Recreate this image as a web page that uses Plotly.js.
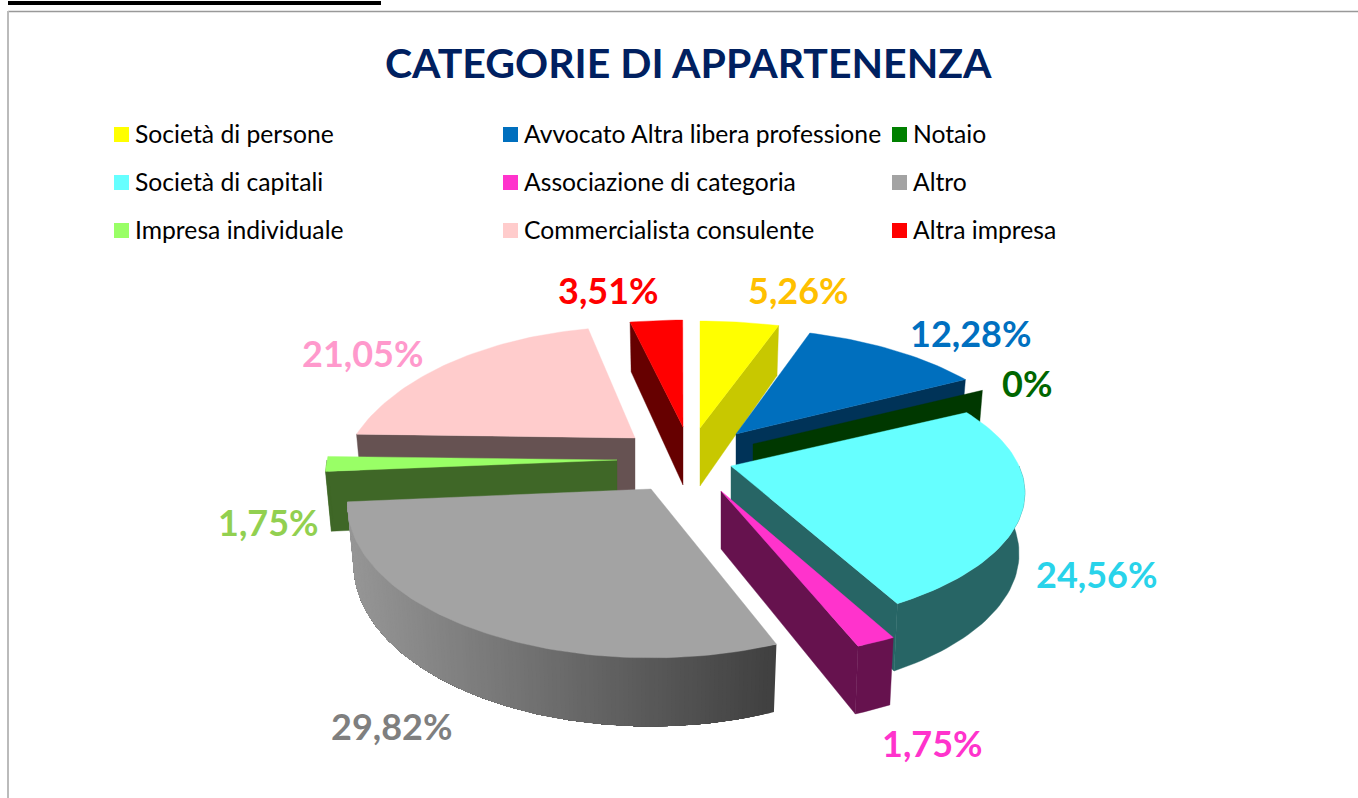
<!DOCTYPE html>
<html>
<head>
<meta charset="utf-8">
<script src="https://cdn.plot.ly/plotly-3.0.1.min.js"></script>
<style>html,body{margin:0;padding:0;background:#fff;overflow:hidden}#chart{width:1358px;height:798px}</style>
</head>
<body>
<div id="chart"></div>
<script>
// ---- data, clockwise from twelve o'clock
const categories = ["Società di persone","Avvocato Altra libera professione","Notaio","Società di capitali","Associazione di categoria","Altro","Impresa individuale","Commercialista consulente","Altra impresa"];
const percentages = [5.26,12.28,0,24.56,1.75,29.82,1.75,21.05,3.51];

// ---- colours
const topColors  = ["#ffff00","#006fbe","#008000","#66ffff","#ff33cc","#a3a3a3","#99ff66","#ffcccc","#ff0000"];
const wallColors = ["#c8c800","#003358","#003800","#276565","#66124e","#6b6b6b","#3f6727","#665252","#660000"];
const labelColors= ["#ffc000","#0070c0","#006600","#29d3ea","#ff33cc","#7f7f7f","#92d050","#ff99cc","#ff0000"];
const greyWallLeft = {x:350, level:0x96}, greyWallRight = {x:775, level:0x40};

// ---- geometry of the tilted, exploded pie (screen pixels on hidden axes)
const apexX = [700,736,753,731,721,651,617,635,683];
const apexY = [428,434,444,466,491,489,460,438,427];
const radX  = [311,292,292,288,330,302,290,281,311];
const radY  = [139,137,135,129,152,152,136,148,139];
const persp = [0.3,0.3,0.3,0.2,0.1,0.1,0.1,0.33,0.3];
const paintOrder = [7,8,0,1,2,3,4,6,5];

// ---- label and legend placement
const labelX = [798,970,1027,1096,932,391,268,362,608];
const labelY = [290,333,383,574,743,726,522,353,290];
const legendColX = [121.5,510.5,899.5];
const legendTextOffset = 11;
const legendRowY = [134.5,182.5,230.5];
const legendTextShiftY = -1;

const DEG = Math.PI/180;
let cum = 0;
const angStart = [], angEnd = [];
percentages.forEach(p => { angStart.push(cum*3.6*DEG); cum += p; angEnd.push(cum*3.6*DEG); });

function pt(i,t,bottom){
  const v = Math.cos(t), s = 1/(1+persp[i]*v);
  let x = apexX[i]+radX[i]*Math.sin(t)*s, y = apexY[i]-radY[i]*v*s;
  if(bottom){ x = apexX[i]+(x-apexX[i])*0.98; y += 59-9.5*v; }
  return [x,y];
}
function poly(pts,color,name,lw){
  const xs = pts.map(p=>p[0]).concat(pts[0][0]), ys = pts.map(p=>p[1]).concat(pts[0][1]);
  return {type:"scatter",mode:"lines",x:xs,y:ys,fill:"toself",fillcolor:color,
    line:{color:color,width:lw===undefined?0.4:lw},name:name,showlegend:false,hoverinfo:"name"};
}
function greyAt(x){
  const f=Math.min(1,Math.max(0,(x-greyWallLeft.x)/(greyWallRight.x-greyWallLeft.x)));
  const g=Math.round(greyWallLeft.level+(greyWallRight.level-greyWallLeft.level)*f);
  return `rgb(${g},${g},${g})`;
}
const traces = [];
paintOrder.forEach(i=>{
  const t0=angStart[i], t1=angEnd[i], nm=categories[i];
  const A=[apexX[i],apexY[i]], B=[apexX[i],apexY[i]+58];
  // cut faces: only those turned towards the viewer
  if(Math.sin(t0)<-1e-6) traces.push(poly([A,pt(i,t0,false),pt(i,t0,true),B],wallColors[i],nm));
  if(Math.sin(t1)>1e-6)  traces.push(poly([A,pt(i,t1,false),pt(i,t1,true),B],wallColors[i],nm));
  if(t1<=t0) return;
  // outer wall: front half only
  const w0=Math.max(t0,90*DEG), w1=Math.min(t1,270*DEG);
  if(w1>w0){
    const steps=Math.max(2,Math.round((w1-w0)/DEG/1.5));
    if(i===5){
      const n=steps*2;
      for(let k=0;k<n;k++){
        const a=w0+(w1-w0)*k/n;
        // each band runs on to the far end, so the next band overpaints it without a seam
        const up=[],dn=[];
        for(let j=k;j<=n;j++){ const c=w0+(w1-w0)*j/n; up.push(pt(i,c,false)); dn.unshift(pt(i,c,true)); }
        traces.push(poly(up.concat(dn),greyAt(pt(i,a,false)[0]),nm,0));
      }
    } else {
      const up=[],dn=[];
      for(let k=0;k<=steps;k++){ const a=w0+(w1-w0)*k/steps; up.push(pt(i,a,false)); dn.unshift(pt(i,a,true)); }
      traces.push(poly(up.concat(dn),wallColors[i],nm));
    }
  }
  const steps=Math.max(2,Math.round((t1-t0)/DEG/1.5));
  const top=[A];
  for(let k=0;k<=steps;k++){ top.push(pt(i,t0+(t1-t0)*k/steps,false)); }
  traces.push(poly(top,topColors[i],nm));
});
// legend key
categories.forEach((c,i)=>{
  traces.push({type:"scatter",mode:"markers",x:[legendColX[i%3]],y:[legendRowY[Math.floor(i/3)]],
    marker:{symbol:"square",size:15,color:topColors[i]},name:c,showlegend:false,hoverinfo:"name"});
});
const fmt = p => p===0 ? "0%" : p.toFixed(2).replace(".",",")+"%";
const annotations = percentages.map((p,i)=>({xref:"x",yref:"y",x:labelX[i],y:labelY[i],text:"<b>"+fmt(p)+"</b>",showarrow:false,
  xanchor:"center",yanchor:"middle",font:{family:"Lato, sans-serif",size:36,color:labelColors[i]}}));
categories.forEach((c,i)=>{
  annotations.push({xref:"x",yref:"y",x:legendColX[i%3]+legendTextOffset,y:legendRowY[Math.floor(i/3)]+legendTextShiftY,text:c,showarrow:false,
    xanchor:"left",yanchor:"middle",font:{family:"Lato, sans-serif",size:24.7,color:"#000"}});
});
annotations.push({xref:"x",yref:"y",x:688,y:62,text:"<b>CATEGORIE DI APPARTENENZA</b>",showarrow:false,xanchor:"center",yanchor:"middle",
  font:{family:"Lato, sans-serif",size:41,color:"#002060"}});

const layout = {width:1358,height:798,margin:{l:0,r:0,t:0,b:0},paper_bgcolor:"#fff",plot_bgcolor:"#fff",showlegend:false,
  xaxis:{range:[0,1358],visible:false,fixedrange:true},
  yaxis:{range:[798,0],visible:false,fixedrange:true},
  annotations:annotations,
  shapes:[
    {type:"rect",xref:"x",yref:"y",x0:8,x1:381,y0:1,y1:5,fillcolor:"#000",line:{width:0}},
    {type:"line",xref:"x",yref:"y",x0:8,x1:1358,y0:11.5,y1:11.5,line:{color:"#999",width:1.5}},
    {type:"line",xref:"x",yref:"y",x0:8,x1:8,y0:11,y1:798,line:{color:"#bbb",width:2}}
  ]};
Plotly.newPlot("chart",traces,layout,{displayModeBar:false});
</script>
</body>
</html>
